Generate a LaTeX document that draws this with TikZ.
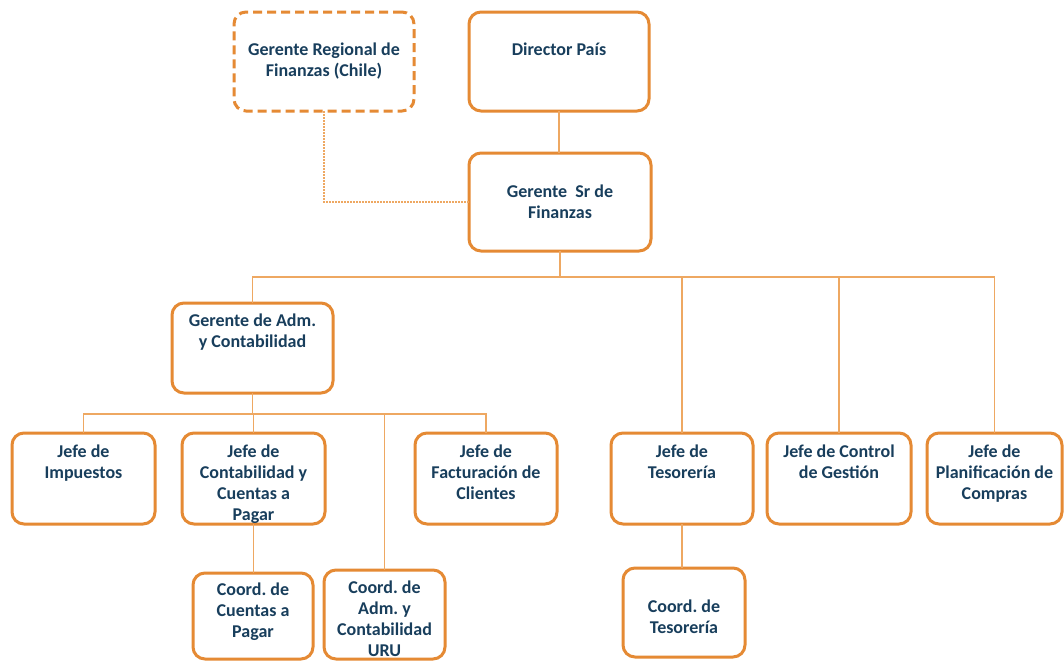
\documentclass[tikz,border=0pt]{standalone}
\usepackage{fontspec}
\setmainfont{Carlito}
\frenchspacing
\definecolor{boxor}{RGB}{229,138,52}
\definecolor{lineor}{RGB}{238,168,98}
\definecolor{txtblue}{RGB}{24,62,92}
\tikzset{
  orgbox/.style={draw=boxor, line width=3pt, rounded corners=12pt, fill=white,
     inner sep=0pt, outer sep=0pt, text=txtblue,
     font=\fontsize{18}{21}\selectfont\bfseries},
  dashbox/.style={orgbox, dash pattern=on 9pt off 5pt},
  conn/.style={draw=lineor, line width=1.3pt},
  dotconn/.style={draw=lineor, line width=1.3pt, dash pattern=on 1.5pt off 1.5pt}
}
\newcommand\obox[8]{%
  \node[#1] (#2) at ({(#3+#5)/2},{(#4+#6)/2})
  {\parbox[c][\dimexpr #6pt-#4pt\relax][t]{\dimexpr #5pt-#3pt\relax}{\centering\frenchspacing\vspace*{#7pt}\strut #8\par}};}
\begin{document}
\begin{tikzpicture}[x=1pt,y=-1pt]
\useasboundingbox[fill=white] (0,0) rectangle (1064,662);
\obox{dashbox}{greg}{234}{12}{414}{111}{29}{Gerente Regional de\\Finanzas (Chile)}
\obox{orgbox}{dir}{469}{12}{649}{111}{29}{Director País}
\obox{orgbox}{gsr}{469}{153}{651}{251}{30}{Gerente\ \ Sr de\\Finanzas}
\obox{orgbox}{gadm}{172}{303}{333}{393}{9}{Gerente de Adm.\\y Contabilidad}
\obox{orgbox}{jimp}{12}{433}{155}{524}{10}{Jefe de\\Impuestos}
\obox{orgbox}{jcont}{182}{433}{325}{524}{10}{Jefe de\\Contabilidad y\\Cuentas a\\Pagar}
\obox{orgbox}{jfac}{415}{433}{557}{524}{10}{Jefe de\\Facturación de\\Clientes}
\obox{orgbox}{jtes}{611}{433}{753}{524}{10}{Jefe de\\Tesorería}
\obox{orgbox}{jcg}{767}{433}{911}{524}{10}{Jefe de Control\\de Gestión}
\obox{orgbox}{jplan}{927}{433}{1062}{524}{10}{Jefe de\\Planificación de\\Compras}
\obox{orgbox}{ccue}{193}{573}{313}{659}{8}{Coord. de\\Cuentas a\\Pagar}
\obox{orgbox}{curu}{324}{570}{445}{659}{9}{Coord. de\\Adm. y\\Contabilidad\\URU}
\obox{orgbox}{ctes}{623}{568}{745}{657}{30}{Coord. de\\Tesorería}
% connectors
\draw[conn] (dir.south) -- (dir.south |- gsr.north);
\draw[dotconn] (greg.south) |- (gsr.west);
\foreach \c in {gadm,jtes,jcg,jplan}
  \draw[conn] (gsr.south) -- ++(0,26) -| (\c.north);
\foreach \c in {jimp,jcont,curu,jfac}
  \draw[conn] (gadm.south) -- ++(0,21) -| (\c.north);
\draw[conn] (jcont.south) -- (jcont.south |- ccue.north);
\draw[conn] (jtes.south) -- (jtes.south |- ctes.north);
\end{tikzpicture}
\end{document}
